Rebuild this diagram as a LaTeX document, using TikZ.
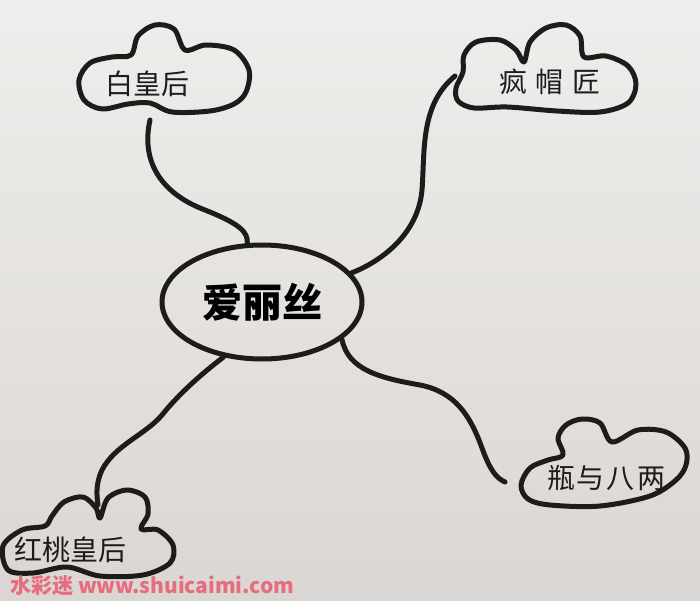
\documentclass[tikz,border=0pt]{standalone}
\usepackage{fontspec}
\newfontfamily\cjk{Noto Sans CJK SC}
\usetikzlibrary{shapes.geometric}

\definecolor{inkblack}{RGB}{30,28,27}
\definecolor{paperlight}{RGB}{239,238,236}
\definecolor{paperdark}{RGB}{218,214,211}
\definecolor{stamp}{RGB}{234,90,112}

\begin{document}
\begin{tikzpicture}[
          x=1pt, y=-1pt,
          ink/.style={draw=inkblack, line width=5pt, line cap=round, line join=round},
          word/.style={font=\cjk\fontsize{28}{30}\selectfont, text=inkblack, inner sep=0pt}
        ]

        \useasboundingbox (0,0) rectangle (700,601);
        \shade[top color=paperlight, bottom color=paperdark] (0,0) rectangle (700,601);

        % center
        \node[ellipse, ink, minimum width=200pt, minimum height=114pt,
              font=\cjk\bfseries\fontsize{40}{42}\selectfont] (alice) at (262,302) {爱丽丝};

        \begin{scope}[ink]
            % 白皇后
            \draw plot[smooth cycle, tension=0.55] coordinates {
                (79,80) (90,63) (112,57) (131,55) (138,36) (155,25) (174,29) (185,50)
                (206,45) (234,50) (249,70) (246,92) (234,104) (210,111) (172,112)
                (150,103) (128,104) (102,109) (84,100)};
            % 疯帽匠
            \draw plot[smooth cycle, tension=0.55] coordinates {
                (456,88) (463,72) (464,55) (476,42) (500,40) (516,50) (524,62)
                (530,42) (546,28) (566,25) (580,36) (584,57) (606,56) (628,66)
                (636,84) (628,103) (600,112) (557,111) (507,107) (474,108) (458,101)};
            % 瓶与八两
            \draw plot[smooth cycle, tension=0.55] coordinates {
                (521,485) (530,468) (548,460) (563,455) (558,438) (566,425) (582,419)
                (600,423) (612,442) (638,430) (666,432) (685,448) (686,465) (676,480)
                (650,496) (600,506) (550,505) (528,499)};
            % 红桃皇后
            \draw plot[smooth cycle, tension=0.55] coordinates {
                (3,546) (22,530) (45,526) (52,516) (64,502) (83,497) (96,508) (100,518)
                (108,498) (127,490) (145,497) (148,514) (141,529) (158,530) (173,545)
                (170,563) (143,575) (100,576) (67,567) (33,573) (8,570)};
        \end{scope}

        \node[word] (whiteq) at (147,84) {白皇后};
        \node[word] (hatter) at (550,82) {疯\hspace{9pt}帽\hspace{9pt}匠};
        \node[word] (bottle) at (606,478) {瓶\hspace{2pt}与\hspace{2pt}八\hspace{2pt}两};
        \node[word] (redq) at (70,550) {红桃皇后};

        \coordinate (whiteq-end) at (150,120);
        \coordinate (hatter-end) at (455,76);
        \coordinate (bottle-end) at (505,482);
        \coordinate (redq-end) at (98,505);

        \draw[ink] (whiteq-end) .. controls (140,165) and (165,195) .. (205,210)
            .. controls (240,224) and (248,232) .. (alice.104);
        \draw[ink] (alice.18) .. controls (380,262) and (418,235) .. (422,190)
            .. controls (425,150) and (420,105) .. (hatter-end);
        \draw[ink] (alice.-25) .. controls (348,370) and (380,378) .. (420,385)
            .. controls (455,392) and (470,415) .. (482,448)
            .. controls (490,470) and (496,478) .. (bottle-end);
        \draw[ink] (alice.235) .. controls (200,375) and (178,395) .. (162,415)
            .. controls (145,435) and (115,445) .. (102,470)
            .. controls (95,485) and (97,497) .. (redq-end);

        \node[anchor=west, text=stamp, opacity=0.85, inner sep=0pt,
              font=\cjk\bfseries\fontsize{21}{23}\selectfont] (mark) at (10,586) {水彩迷 www.shuicaimi.com};

\end{tikzpicture}
\end{document}
